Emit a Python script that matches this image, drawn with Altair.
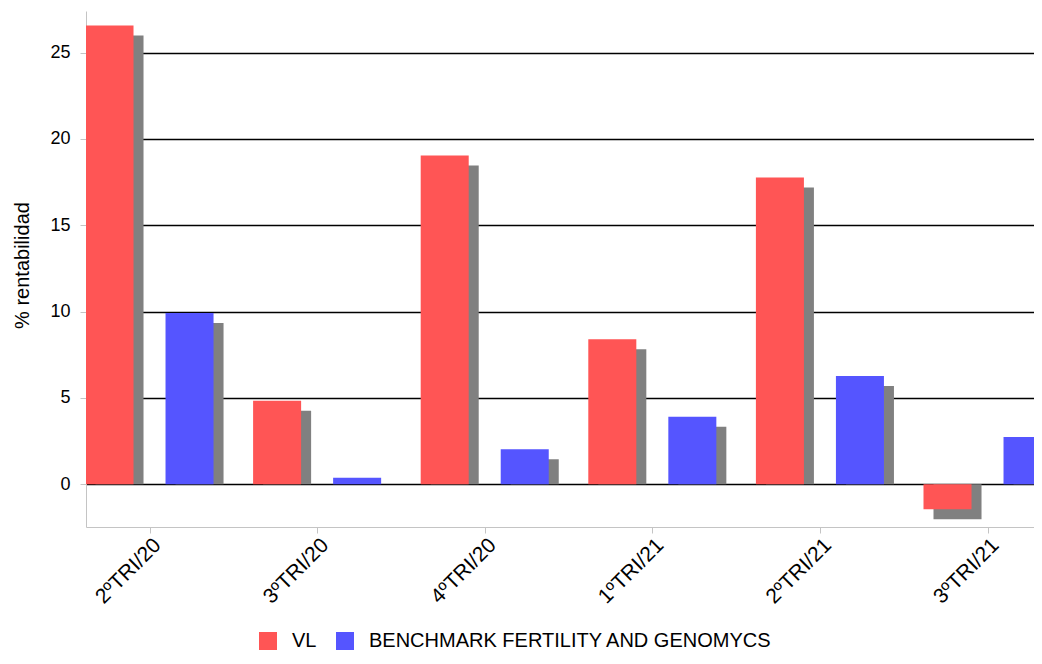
import json
import altair as alt
import pandas as pd

quarters = ["2ºTRI/20", "3ºTRI/20", "4ºTRI/20", "1ºTRI/21", "2ºTRI/21", "3ºTRI/21"]
series_names = ["VL", "BENCHMARK FERTILITY AND GENOMYCS"]
vl_values = [26.57, 4.83, 19.04, 8.40, 17.76, -1.45]
bench_values = [9.92, 0.37, 2.03, 3.91, 6.27, 2.73]
colors = ["#FF5555", "#5555FF"]
y_ticks = [0, 5, 10, 15, 20, 25]

rows = []
for i, q in enumerate(quarters):
    rows.append({"idx": i, "quarter": q, "series": series_names[0], "sidx": 0, "value": vl_values[i]})
    rows.append({"idx": i, "quarter": q, "series": series_names[1], "sidx": 1, "value": bench_values[i]})
df = pd.DataFrame(rows)

FONT = "Liberation Sans"
W, H = 948, 516
xdom = [-0.379, -0.379 + W / 167.6]
ydom = [-2.48, 27.41]

xscale = alt.Scale(domain=xdom, nice=False, zero=False)
yscale = alt.Scale(domain=ydom, nice=False, zero=False)

label_expr = json.dumps(quarters, ensure_ascii=False) + "[datum.value]"

base = alt.Chart(df).transform_calculate(
    x_lo="datum.idx + (datum.sidx == 0 ? -0.382 : 0.0955)",
).transform_calculate(
    x_hi="datum.x_lo + 0.2865",
    sx_lo="datum.x_lo + 0.0597",
    sx_hi="datum.x_lo + 0.2865 + 0.0597",
    sy="datum.value >= 0 ? max(0, datum.value - 0.58) : datum.value - 0.58",
    zero="0",
)

shadow = base.mark_bar(clip=True, color="#808080").encode(
    x=alt.X("sx_lo:Q", scale=xscale,
            axis=alt.Axis(values=list(range(len(quarters))), labelExpr=label_expr,
                          labelAngle=-45, labelAlign="right", labelBaseline="top",
                          labelPadding=1, title=None, grid=False,
                          domainColor="#c4c4c4", tickColor="#c4c4c4", tickSize=6,
                          labelFont=FONT, labelFontSize=21, labelColor="#000000")),
    x2="sx_hi:Q",
    y=alt.Y("sy:Q", scale=yscale,
            axis=alt.Axis(values=y_ticks, title="% rentabilidad", grid=True,
                          gridColor="#000000", gridWidth=1.3,
                          domainColor="#c4c4c4", tickColor="#c4c4c4", tickSize=6,
                          labelPadding=10, labelFont=FONT, labelFontSize=18,
                          labelColor="#000000", titleFont=FONT, titleFontSize=20,
                          titleFontWeight="normal", titleColor="#000000",
                          titleX=-64, titleY=254, titleAlign="center",
                          titleBaseline="middle")),
    y2="zero:Q",
)

bars = base.mark_bar(clip=True).encode(
    x=alt.X("x_lo:Q", scale=xscale),
    x2="x_hi:Q",
    y=alt.Y("value:Q", scale=yscale),
    y2="zero:Q",
    color=alt.Color("series:N",
                    scale=alt.Scale(domain=series_names, range=colors),
                    legend=alt.Legend(orient="none", legendX=172, legendY=620,
                                      direction="horizontal", title=None,
                                      symbolType="square", symbolSize=324,
                                      symbolStrokeWidth=0, symbolOpacity=1,
                                      labelFont=FONT, labelFontSize=20,
                                      labelColor="#000000", labelOffset=14,
                                      columnPadding=18, labelLimit=700)),
)

chart = alt.layer(shadow, bars).properties(
    width=W, height=H,
    autosize=alt.AutoSizeParams(type="none"),
    padding={"left": 78, "top": 3, "right": 0, "bottom": 125},
).configure(background="#ffffff").configure_view(stroke=None)

chart.save("out.html", embed_options={"renderer": "svg", "actions": False})
